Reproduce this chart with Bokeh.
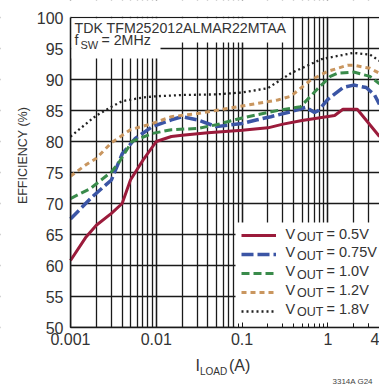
import numpy as np
from bokeh.plotting import figure
from bokeh.models import (FixedTicker, Legend, LegendItem, Label, BoxAnnotation,
                          Range1d, CustomJSTickFormatter, LogAxis, LinearAxis, Grid)
from bokeh.embed import file_html
from bokeh.resources import INLINE

# ---------------- data ----------------
x_05 = [0.001, 0.0015, 0.002, 0.003, 0.004, 0.005, 0.007, 0.01, 0.015, 0.02, 0.04,
        0.1, 0.2, 0.3, 0.5, 1.2, 1.5, 2.2, 4]
y_05 = [60.8, 64.5, 66.5, 68.4, 70.0, 73.8, 77.0, 80.0, 80.8, 81.0, 81.4,
        81.8, 82.2, 82.8, 83.4, 84.2, 85.2, 85.2, 80.8]

x_075 = [0.001, 0.0018, 0.003, 0.004, 0.0057, 0.009, 0.015, 0.02, 0.03, 0.05,
         0.1, 0.15, 0.216, 0.37, 0.55, 0.7, 0.78, 1.0, 1.5, 2.0, 2.8, 3.5, 4]
y_075 = [67.5, 71.1, 73.8, 78.0, 80.5, 82.4, 83.5, 84.0, 83.5, 82.4,
         82.9, 83.5, 84.0, 84.8, 85.5, 84.7, 85.0, 86.8, 88.7, 89.1, 88.7, 87.5, 86.0]

x_10 = [0.001, 0.0017, 0.003, 0.0037, 0.0052, 0.009, 0.015, 0.03, 0.05, 0.1,
        0.28, 0.48, 0.76, 1.07, 1.3, 2.0, 3.1, 4]
y_10 = [70.8, 72.4, 75.1, 76.7, 80.0, 81.3, 81.9, 82.1, 82.7, 83.8,
        85.1, 85.6, 88.5, 90.5, 91.0, 91.2, 90.5, 89.3]

x_12 = [0.001, 0.0015, 0.002, 0.003, 0.005, 0.009, 0.015, 0.03, 0.088, 0.26,
        0.37, 0.63, 0.99, 1.7, 2.0, 3.1, 4]
y_12 = [74.4, 76.2, 77.3, 79.8, 81.9, 82.9, 84.0, 84.5, 85.6, 86.7,
        87.3, 89.9, 91.3, 92.3, 92.3, 91.8, 91.0]

x_18 = [0.001, 0.0015, 0.002, 0.003, 0.004, 0.007, 0.01, 0.02, 0.05, 0.1,
        0.2, 0.37, 0.44, 0.85, 2.0, 3.1, 4]
y_18 = [80.8, 82.8, 84.2, 85.6, 86.5, 87.1, 87.3, 87.5, 87.6, 87.9,
        88.6, 91.0, 91.5, 93.3, 94.3, 94.0, 93.0]

series_labels = ["0.5V", "0.75V", "1.0V", "1.2V", "1.8V"]
x_ticks = [0.001, 0.01, 0.1, 1, 4]
x_minor = [m * 10.0 ** d for d in range(-3, 1) for m in range(1, 10)] + [2, 3, 4]
y_ticks = list(range(50, 101, 5))

# ---------------- layout geometry (pixels) ----------------
W, H = 379, 385
PL, PT, PB = 70, 17, 327          # plot area left / top / bottom (page px)
XMIN, XMAX, YMIN, YMAX = 0.001, 4, 50, 100
ppd = (W - PL) / np.log10(XMAX / XMIN)          # px per decade
ppu = (PB - PT) / (YMAX - YMIN)                  # px per %
x_start = XMIN / 10 ** (PL / ppd)
y_start = YMIN - (H - PB) / ppu
y_end = YMAX + PT / ppu

p = figure(width=W, height=H, x_axis_type="log",
           x_range=Range1d(x_start, XMAX), y_range=Range1d(y_start, y_end),
           x_axis_location=None, y_axis_location=None,
           output_backend="svg", toolbar_location=None,
           min_border=0)
p.background_fill_color = "white"
p.border_fill_color = "white"
p.outline_line_color = None
p.xgrid.visible = False
p.ygrid.visible = False

xticker = FixedTicker(ticks=x_ticks, minor_ticks=x_minor)
yticker = FixedTicker(ticks=y_ticks)

gx = Grid(dimension=0, ticker=xticker, grid_line_color="#1a1a1a", grid_line_width=1.3,
          minor_grid_line_color="#1a1a1a", minor_grid_line_width=1.3)
gy = Grid(dimension=1, ticker=yticker, grid_line_color="#1a1a1a", grid_line_width=1.3)
p.add_layout(gx, "center")
p.add_layout(gy, "center")

def sbox(left, right, top, bottom):
    """white box in page pixel coords (y from top)"""
    b = BoxAnnotation(left=left, right=right, top=H - top, bottom=H - bottom,
                      left_units="screen", right_units="screen",
                      top_units="screen", bottom_units="screen",
                      fill_color="white", fill_alpha=1, line_color=None,
                      level="underlay")
    p.add_layout(b, "center")

# mask grid outside the plotting area
sbox(0, PL, 0, H)
sbox(0, W, PB, H)
sbox(0, W, 0, PT - 0.7)
# title / fsw / legend backgrounds
sbox(PL + 0.7, 290, PT + 0.7, 42)
sbox(PL + 0.7, 160, 41, 58)
sbox(235, W, 222, PB - 0.7)

# ---------------- axes ----------------
xaxis = LogAxis(fixed_location=YMIN, bounds=(XMIN, XMAX), ticker=xticker,
                formatter=CustomJSTickFormatter(code="return tick.toString()"))
yaxis = LinearAxis(fixed_location=XMIN, bounds=(YMIN, YMAX), ticker=yticker)
for ax in (xaxis, yaxis):
    ax.axis_line_color = "#1a1a1a"
    ax.axis_line_width = 1.5
    ax.major_tick_out = 0
    ax.minor_tick_out = 0
    ax.major_label_text_font = "Liberation Sans"
    ax.major_label_text_font_size = "16px"
    ax.major_label_text_color = "#333333"
xaxis.major_tick_in = 5
xaxis.minor_tick_in = 4
xaxis.major_tick_line_color = "#1a1a1a"
xaxis.minor_tick_line_color = "#1a1a1a"
xaxis.major_label_standoff = 5
yaxis.major_tick_in = 0
yaxis.minor_tick_line_color = None
yaxis.major_label_standoff = 7
p.add_layout(xaxis, "below")
p.add_layout(yaxis, "left")

# ---------------- curves ----------------
r05 = p.line(x_05, y_05, line_color="#9b1b3b", line_width=3)
r075 = p.line(x_075, y_075, line_color="#3b55a5", line_width=3.5, line_dash="12 4")
r10 = p.line(x_10, y_10, line_color="#3a8b4b", line_width=3, line_dash="8 4")
r12 = p.line(x_12, y_12, line_color="#c9965f", line_width=3, line_dash="5 4")
r18 = p.line(x_18, y_18, line_color="#222222", line_width=2.3, line_dash="2 3")
renderers = [r05, r075, r10, r12, r18]

# ---------------- legend (glyph samples only; text drawn as labels) ----------------
legend = Legend(items=[LegendItem(label="", renderers=[r]) for r in renderers],
                location=(241, 67), orientation="vertical",
                glyph_width=35, glyph_height=14, label_height=14,
                label_width=20, spacing=5, padding=7, margin=0,
                background_fill_alpha=0, border_line_color=None)
p.add_layout(legend, "center")

# ---------------- texts (page px, baseline y from top) ----------------
def lab(x, y, text, size, font="Liberation Sans", color="#333333", **kw):
    p.add_layout(Label(x=x, y=H - y, x_units="screen", y_units="screen", text=text,
                       text_font=font, text_font_size=size,
                       text_color=color, **kw))

lab(74, 35, "TDK TFM252012ALMAR22MTAA", "14.2px")
lab(74, 47, "f", "14.2px")
lab(80, 50, "SW", "11px")
lab(101, 47, "= 2MHz", "14.2px")

for i, s in enumerate(series_labels):
    yb = 241 + 18.8 * i
    lab(285, yb, "V", "14.5px")
    lab(296.5, yb + 2.5, "OUT", "12.5px")
    lab(326, yb, "= " + s, "14.5px")

lab(22, 155, "EFFICIENCY (%)", "12.5px", angle=np.pi / 2,
    text_align="center", text_baseline="middle")
lab(195, 373, "I", "16px")
lab(199.5, 376.5, "LOAD", "10px")
lab(228.5, 373, "(A)", "16px")
lab(332, 385, "3314A G24", "8px", color="#444444")

open("out.html", "w").write(file_html(p, INLINE))
